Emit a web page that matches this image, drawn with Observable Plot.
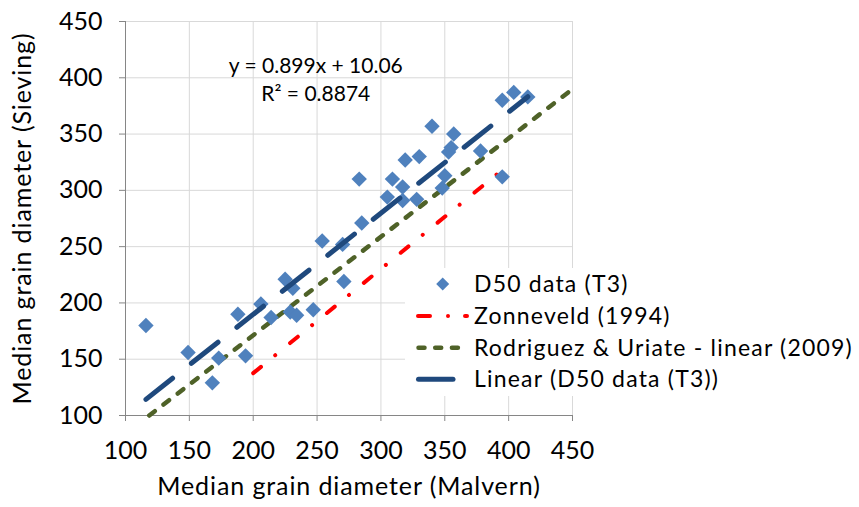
<!DOCTYPE html>
<html>
<head>
<meta charset="utf-8">
<script src="https://cdn.jsdelivr.net/npm/d3@7"></script>
<script src="https://cdn.jsdelivr.net/npm/@observablehq/plot@0.6"></script>
<style>
  body { margin: 0; background: white; }
  #wrap { position: relative; width: 859px; height: 507px; font-family: Lato, sans-serif; }
  #legend { position: absolute; left: 405px; top: 268px; }
</style>
</head>
<body>
<div id="wrap"></div>
<script>
// ---- data ----
const xTicks = [100, 150, 200, 250, 300, 350, 400, 450];
const yTicks = [100, 150, 200, 250, 300, 350, 400, 450];

const d50Malvern = [116, 149, 168, 173, 188, 194, 206, 214, 225, 231, 229, 234, 247, 254, 270, 271,
  283, 285, 305, 309, 317, 317, 319, 330, 328, 340, 357, 355, 353, 350, 348, 378, 395, 395, 404, 415];
const d50Sieving = [180, 156, 129, 151, 190, 153, 199, 187, 221, 213, 192, 189, 194, 255, 252, 219,
  310, 271, 294, 310, 303, 291, 327, 330, 292, 357, 350, 338, 334, 313, 302, 335, 312, 380, 387, 383];

const zonneveldX = [200, 395];
const zonneveldY = [137.6, 318.2];

const rodriguezX = [118.6, 450];
const rodriguezY = [100, 390];

const trendSlope = 0.899;
const trendIntercept = 10.06;

const equationLines = ["y = 0.899x + 10.06", "R² = 0.8874"];
const legendLabels = ["D50 data (T3)", "Zonneveld (1994)", "Rodriguez & Uriate - linear (2009)", "Linear (D50 data (T3))"];
const xTitle = "Median grain diameter (Malvern)";
const yTitle = "Median grain diameter (Sieving)";

// ---- styles ----
const cMarker = "#4f81bd", cTrend = "#1f497d", cRod = "#4f6228", cZon = "#ff0000";

const points = d50Malvern.map((x, i) => ({x, y: d50Sieving[i]}));
const zon = zonneveldX.map((x, i) => ({x, y: zonneveldY[i]}));
const rod = rodriguezX.map((x, i) => ({x, y: rodriguezY[i]}));
const trend = d3.extent(d50Malvern).map(x => ({x, y: trendSlope * x + trendIntercept}));

const diamond = {
  draw(ctx, size) {
    const r = Math.sqrt(size / Math.PI);
    ctx.moveTo(0, -r); ctx.lineTo(r, 0); ctx.lineTo(0, r); ctx.lineTo(-r, 0); ctx.closePath();
  }
};

const chart = Plot.plot({
  width: 859, height: 507,
  marginLeft: 125, marginRight: 287, marginTop: 21, marginBottom: 92,
  x: {domain: [100, 450]},
  y: {domain: [100, 450]},
  style: {fontFamily: "Lato, sans-serif", fontSize: "25px", color: "#000", background: "white", overflow: "visible"},
  marks: [
    Plot.gridX(xTicks, {stroke: "#d9d9d9", strokeOpacity: 1}),
    Plot.gridY(yTicks, {stroke: "#d9d9d9", strokeOpacity: 1}),
    Plot.axisX(xTicks, {tickSize: 6, tickPadding: 20, stroke: "#868686", fontSize: 25, label: null}),
    Plot.axisY(yTicks, {tickSize: 6, tickPadding: 17, stroke: "#868686", fontSize: 25, label: null}),
    Plot.ruleX([100], {stroke: "#868686"}),
    Plot.ruleY([100], {stroke: "#868686"}),
    Plot.line(zon, {x: "x", y: "y", stroke: cZon, strokeWidth: 4, strokeLinecap: "round", strokeDasharray: "10,18.4,0.01,19.2"}),
    Plot.line(rod, {x: "x", y: "y", stroke: cRod, strokeWidth: 4.5, strokeLinecap: "round", strokeDasharray: "7,11"}),
    Plot.dot(points, {x: "x", y: "y", symbol: diamond, r: 7.7, fill: cMarker, stroke: null}),
    Plot.line(trend, {x: "x", y: "y", stroke: cTrend, strokeWidth: 5, strokeLinecap: "round", strokeDasharray: "34,24"}),
    Plot.text([equationLines[0]], {x: 249, y: 410, fontSize: 21, fill: "#000"}),
    Plot.text([equationLines[1]], {x: 249, y: 385, fontSize: 21, fill: "#000"}),
    Plot.text([xTitle], {frameAnchor: "bottom", dy: 79, fontSize: 25, fill: "#000", style: {letterSpacing: "0.9px"}}),
    Plot.text([yTitle], {frameAnchor: "left", dx: -103, rotate: -90, textAnchor: "middle", fontSize: 25, fill: "#000"})
  ]
});
document.getElementById("wrap").appendChild(chart);
// stretch axis titles a little (letter spacing) to match the reference widths
d3.select(chart).selectAll("text").filter(function() { return this.textContent === xTitle || this.textContent === yTitle; })
  .style("letter-spacing", "0.9px");

// ---- legend overlay ----
const leg = d3.select("#wrap").append("svg").attr("id", "legend")
  .attr("width", 454).attr("height", 128);
leg.append("rect").attr("width", 454).attr("height", 128).attr("fill", "white");
const rowsY = [16, 48, 79.7, 111.3];
const swatches = [
  {type: "dot"},
  {type: "line", stroke: cZon, w: 4, dash: "12,18,0.01,17", x1: 13, x2: 62},
  {type: "line", stroke: cRod, w: 4.5, dash: "6,10.7", x1: 13.5, x2: 58},
  {type: "line", stroke: cTrend, w: 5, dash: null, x1: 13.5, x2: 48}
];
swatches.forEach((s, i) => {
  const y = rowsY[i];
  if (s.type === "dot") {
    leg.append("path").attr("d", d3.line()([[37.7, y - 6.5], [44.2, y], [37.7, y + 6.5], [31.2, y]]) + "Z").attr("fill", cMarker);
  } else {
    leg.append("line").attr("x1", s.x1).attr("x2", s.x2).attr("y1", y).attr("y2", y)
      .attr("stroke", s.stroke).attr("stroke-width", s.w).attr("stroke-linecap", "round")
      .attr("stroke-dasharray", s.dash);
  }
  leg.append("text").attr("x", 69).attr("y", y).attr("dy", "0.35em")
    .attr("font-family", "Lato, sans-serif").attr("font-size", 23).attr("fill", "#000")
    .style("letter-spacing", "1.2px")
    .text(legendLabels[i]);
});
</script>
</body>
</html>
